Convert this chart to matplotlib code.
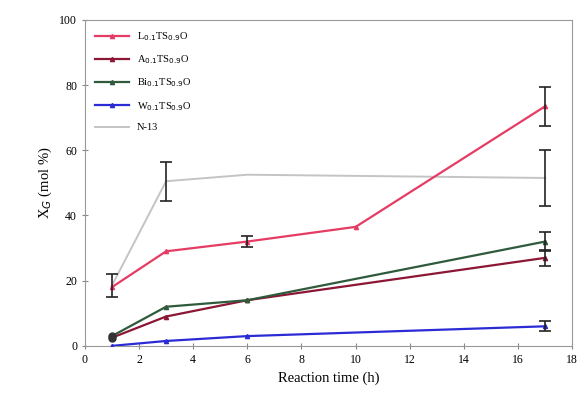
import matplotlib
matplotlib.use("Agg")
import matplotlib.pyplot as plt

plt.rcParams['font.family'] = ['Liberation Serif', 'DejaVu Serif']

time_a = [1, 3, 6, 10, 17]
time_b = [1, 3, 6, 17]

labels = ["L$_{0.1}$TS$_{0.9}$O", "A$_{0.1}$TS$_{0.9}$O", "Bi$_{0.1}$TS$_{0.9}$O",
          "W$_{0.1}$TS$_{0.9}$O", "N-13"]

s1 = [18, 29, 32, 36.5, 73.5]
s1_err = [0, 0, 1.8, 0, 6]
s2 = [2.5, 9, 14, 27]
s2_err = [0, 0, 0, 2.5]
s3 = [3, 12, 14, 32]
s3_err = [0, 0, 0, 3]
s4 = [0, 1.5, 3, 6]
s4_err = [0, 0, 0, 1.5]
s5 = [18.5, 50.5, 52.5, 51.5]
s5_err = [3.5, 6, 0, 8.5]

colors = ["#e63c64", "#8c1634", "#2f5a3c", "#2b2bd6", "#c4c4c4"]

fig = plt.figure(figsize=(5.81, 4.05), dpi=100)
ax = fig.add_axes([0.146, 0.146, 0.839, 0.805])

ax.plot(time_a, s1, color=colors[0], lw=1.6, marker='^', ms=3, label=labels[0], zorder=3)
ax.plot(time_b, s2, color=colors[1], lw=1.6, marker='^', ms=3, label=labels[1], zorder=3)
ax.plot(time_b, s3, color=colors[2], lw=1.6, marker='^', ms=3, label=labels[2], zorder=3)
ax.plot(time_b, s4, color=colors[3], lw=1.6, marker='^', ms=3, label=labels[3], zorder=3)
ax.plot(time_b, s5, color=colors[4], lw=1.4, label=labels[4], zorder=2)

# dark blobs at the first point
ax.plot([1, 1], [s2[0], s3[0]], 'o', color='#333333', ms=5, zorder=4)

for xs, ys, es in [(time_a, s1, s1_err), (time_b, s2, s2_err), (time_b, s3, s3_err),
                   (time_b, s4, s4_err), (time_b, s5, s5_err)]:
    pts = [(x, y, e) for x, y, e in zip(xs, ys, es) if e > 0]
    if pts:
        ax.errorbar([p[0] for p in pts], [p[1] for p in pts], yerr=[p[2] for p in pts],
                    fmt='none', ecolor='#222222', elinewidth=1.2,
                    capsize=4, capthick=1.2, zorder=4)

ax.set_xlim(0, 18)
ax.set_ylim(0, 100)
ax.set_xticks(range(0, 19, 2))
ax.set_yticks(range(0, 101, 20))
ax.tick_params(direction='inout', length=4, labelsize=8.5, color='#888888')
for sp in ax.spines.values():
    sp.set_color('#999999')
ax.set_xlabel("Reaction time (h)", fontsize=10.5)
ax.set_ylabel("X$_G$ (mol %)", fontsize=10.5)

ax.legend(loc='upper left', frameon=False, fontsize=7.5, handlelength=3.2,
          labelspacing=1.0, borderaxespad=0.6)

fig.savefig("out.png", dpi=100)
